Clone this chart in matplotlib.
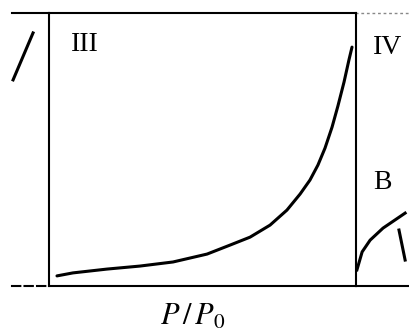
import matplotlib
matplotlib.use("Agg")
import matplotlib.pyplot as plt

plt.rcParams['mathtext.fontset'] = 'stix'

# Type III isotherm (main panel), relative pressure vs adsorbed amount (normalised)
p3 = [0.026, 0.078, 0.189, 0.296, 0.404, 0.515, 0.590, 0.655, 0.720, 0.775,
      0.818, 0.850, 0.876, 0.899, 0.922, 0.941, 0.961, 0.977, 0.987]
v3 = [0.037, 0.048, 0.062, 0.073, 0.088, 0.117, 0.150, 0.179, 0.223, 0.278,
      0.337, 0.388, 0.443, 0.505, 0.582, 0.659, 0.747, 0.828, 0.875]

# Type II fragment (left, cropped panel)
p2 = [0.883, 0.948]
v2 = [0.755, 0.927]

# Type IV fragment (right, cropped panel)
p4 = [0.003, 0.020, 0.046, 0.088, 0.160]
v4 = [0.059, 0.125, 0.168, 0.212, 0.267]
# small stroke near right edge
p4b = [0.140, 0.150, 0.160]
v4b = [0.205, 0.150, 0.095]

W, H = 410, 333
fig = plt.figure(figsize=(W / 100, H / 100), dpi=100)

left_px, right_px, top_px, bot_px = 49, 356, 13, 286
aw = (right_px - left_px) / W
ah = (bot_px - top_px) / H
ab = 1 - bot_px / H

lw_frame = 1.5
lw_curve = 2.2

# left cropped panel
axl = fig.add_axes([left_px / W - aw, ab, aw, ah])
axl.patch.set_visible(False)
axl.plot(p2, v2, color='black', lw=lw_curve)
axl.set_xlim(0, 1); axl.set_ylim(0, 1)
axl.set_xticks([]); axl.set_yticks([])
axl.spines['left'].set_visible(False)
axl.spines['right'].set_visible(False)
axl.spines['top'].set_linewidth(lw_frame)
axl.spines['bottom'].set_linewidth(lw_frame)
axl.spines['bottom'].set_linestyle((0, (4, 2)))
axl.spines['top'].set_bounds(0.88, 1)
axl.spines['bottom'].set_bounds(0.88, 1)

# right cropped panel
axr = fig.add_axes([right_px / W, ab, aw, ah])
axr.patch.set_visible(False)
axr.plot(p4, v4, color='black', lw=lw_curve)
axr.plot(p4b, v4b, color='black', lw=lw_curve)
axr.set_xlim(0, 1); axr.set_ylim(0, 1)
axr.set_xticks([]); axr.set_yticks([])
axr.spines['left'].set_visible(False)
axr.spines['right'].set_visible(False)
axr.spines['top'].set_linewidth(1.0)
axr.spines['top'].set_linestyle((0, (1, 3)))
axr.spines['top'].set_color('#888888')
axr.spines['bottom'].set_linewidth(lw_frame)
axr.text(0.104, 0.875, 'IV', fontsize=20, family='Liberation Serif',
         ha='center', va='center')
axr.text(0.085, 0.38, 'B', fontsize=20, family='Liberation Serif',
         ha='center', va='center')

# main panel (drawn last so its frame is on top)
ax = fig.add_axes([left_px / W, ab, aw, ah])
ax.patch.set_visible(False)
ax.plot(p3, v3, color='black', lw=lw_curve, solid_capstyle='round',
        solid_joinstyle='round')
ax.set_xlim(0, 1)
ax.set_ylim(0, 1)
ax.set_xticks([]); ax.set_yticks([])
for s in ax.spines.values():
    s.set_linewidth(lw_frame)
ax.text(0.117, 0.883, 'III', fontsize=20, family='Liberation Serif',
        ha='center', va='center')

fig.text(0.47, 0.05, r'$P\,/\,P_0$', fontsize=22, ha='center', va='center')

fig.savefig('out.png', dpi=100)
